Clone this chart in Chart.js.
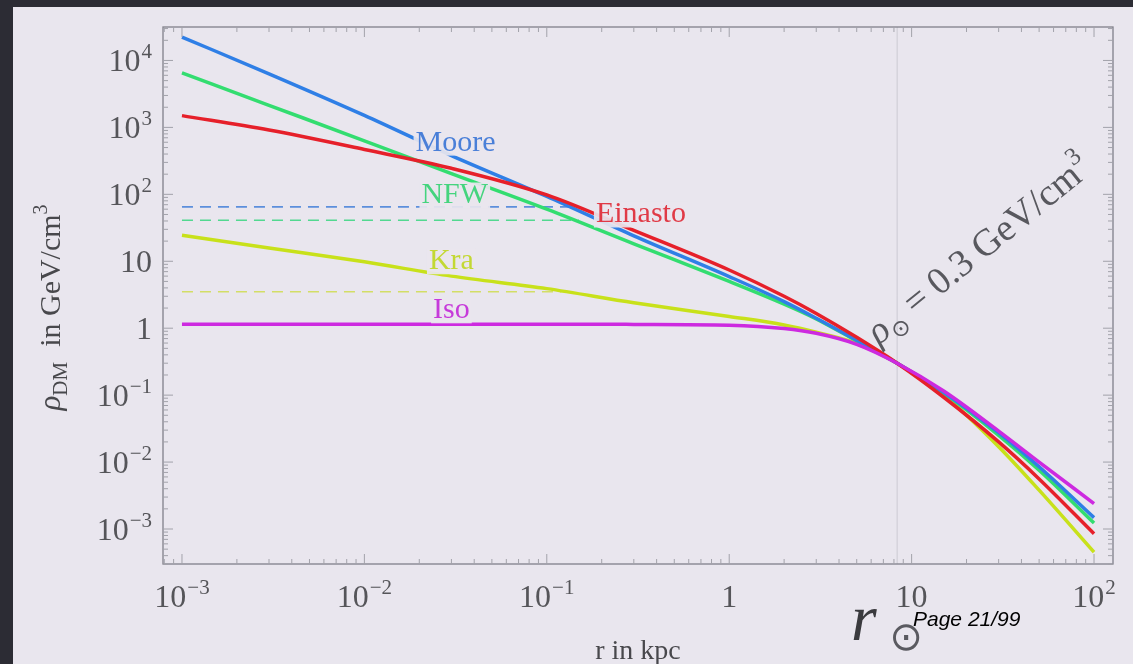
<!DOCTYPE html>
<html>
<head>
<meta charset="utf-8">
<script src="https://cdn.jsdelivr.net/npm/chart.js@4.4.1/dist/chart.umd.min.js"></script>
<style>
  html, body { margin: 0; padding: 0; background: #e9e6ee; }
  canvas { display: block; }
</style>
</head>
<body>
<canvas id="chartDensity" width="1133" height="664"></canvas>
<script>
// radius in kpc, densities in GeV/cm^3
var radius  = [0.001, 0.003, 0.01, 0.03, 0.1, 0.3, 1, 2, 3, 5, 8.33, 15, 30, 50, 100];
var moore   = [22400, 6310, 1510, 380, 93, 24, 5.9, 2.5, 1.41, 0.66, 0.3, 0.11, 0.0275, 0.0085, 0.00148];
var nfw     = [6530, 2140, 631, 204, 60, 18.2, 5.0, 2.29, 1.38, 0.645, 0.3, 0.107, 0.0251, 0.00759, 0.00123];
var einasto = [1500, 912, 468, 245, 98, 29, 7.4, 3.0, 1.66, 0.73, 0.3, 0.093, 0.020, 0.0056, 0.00085];
var kra     = [24.5, 15.8, 9.8, 6.0, 3.9, 2.4, 1.5, 1.12, 0.87, 0.59, 0.3, 0.1, 0.017, 0.0038, 0.00045];
var iso     = [1.15, 1.15, 1.15, 1.15, 1.15, 1.14, 1.11, 0.99, 0.84, 0.575, 0.3, 0.115, 0.029, 0.01, 0.0024];

// flat cores (Moore, NFW, Kra) and the radius where each one meets its profile
var coreLevels = [65, 41, 3.5];
var coreEnds   = [0.135, 0.15, 0.12];

var rSun = 8.33;

var xTicks = [1e-3, 1e-2, 1e-1, 1, 10, 100];
var xTickLabels = [['10', '\u22123'], ['10', '\u22122'], ['10', '\u22121'], ['1', ''], ['10', ''], ['10', '2']];
var yTicks = [1e-3, 1e-2, 1e-1, 1, 10, 100, 1e3, 1e4];
var yTickLabels = [['10', '\u22123'], ['10', '\u22122'], ['10', '\u22121'], ['1', ''], ['10', ''], ['10', '2'], ['10', '3'], ['10', '4']];

var curveNames = ['Moore', 'NFW', 'Einasto', 'Kra', 'Iso'];
var labelR     = [0.0316, 0.0313, 0.328, 0.030, 0.030];
var labelRho   = [592, 96, 50, 10, 1.85];

var BLUE = '#2f7fe6', GREEN = '#33dd70', RED = '#e6202a', YELLOW = '#c8e11a', MAGENTA = '#cd2ae0';
var labelColors = ['#4a7fd8', '#45d47e', '#e03a46', '#c3d834', '#c63ada'];
var PAGE = '#e9e6ee';
var SERIF = '"Liberation Serif", "DejaVu Serif", serif';

function points(values) {
    return radius.map(function (r, i) { return { x: r, y: values[i] }; });
}
function corePoints(i) {
    return [{ x: radius[0], y: coreLevels[i] }, { x: coreEnds[i], y: coreLevels[i] }];
}
function curve(values, color) {
    return {
        data: points(values), borderColor: color, borderWidth: 3.5,
        pointRadius: 0, cubicInterpolationMode: 'monotone', fill: false
    };
}
function core(i, color) {
    return {
        data: corePoints(i), borderColor: color, borderWidth: 1.6,
        borderDash: [11, 7], pointRadius: 0, fill: false
    };
}

// "10" with a raised exponent
function drawPower(ctx, base, exp, x, y, align) {
    ctx.font = '32px ' + SERIF;
    var wb = ctx.measureText(base).width;
    ctx.font = '21px ' + SERIF;
    var we = exp ? ctx.measureText(exp).width + 1 : 0;
    var left = align === 'right' ? x - wb - we : x - (wb + we) / 2;
    ctx.textAlign = 'left';
    ctx.textBaseline = 'alphabetic';
    ctx.font = '32px ' + SERIF;
    ctx.fillText(base, left, y);
    if (exp) {
        ctx.font = '21px ' + SERIF;
        ctx.fillText(exp, left + wb + 1, y - 13);
    }
}

// runs of text with their own font and vertical shift, starting at x (or centred)
function drawRuns(ctx, runs, x, y, centred) {
    var total = 0;
    runs.forEach(function (r) { ctx.font = r.font; r.w = ctx.measureText(r.t).width; total += r.w; });
    var cx = centred ? x - total / 2 : x;
    ctx.textAlign = 'left';
    ctx.textBaseline = 'alphabetic';
    runs.forEach(function (r) {
        ctx.font = r.font;
        ctx.fillText(r.t, cx, y + (r.dy || 0));
        cx += r.w;
    });
}

var framePlugin = {
    id: 'frame',
    beforeDraw: function (chart) {
        var ctx = chart.ctx, w = chart.width, h = chart.height;
        ctx.save();
        ctx.fillStyle = PAGE;
        ctx.fillRect(0, 0, w, h);
        ctx.fillStyle = '#2c2c34';
        ctx.fillRect(0, 0, 13, h);
        ctx.fillRect(0, 0, w, 7);
        ctx.restore();
    },
    beforeDatasetsDraw: function (chart) {
        var ctx = chart.ctx, a = chart.chartArea, xs = chart.scales.x;
        var px = xs.getPixelForValue(rSun);
        ctx.save();
        ctx.strokeStyle = 'rgba(150,150,160,0.35)';
        ctx.lineWidth = 1;
        ctx.beginPath();
        ctx.moveTo(px, a.top);
        ctx.lineTo(px, a.bottom);
        ctx.stroke();
        ctx.restore();
    },
    afterDatasetsDraw: function (chart) {
        var ctx = chart.ctx, a = chart.chartArea;
        var xs = chart.scales.x, ys = chart.scales.y;
        ctx.save();

        // frame
        ctx.strokeStyle = '#80808a';
        ctx.lineWidth = 1.3;
        ctx.strokeRect(a.left, a.top, a.right - a.left, a.bottom - a.top);

        // ticks on all four sides, pointing inwards
        ctx.strokeStyle = '#a2a2aa';
        ctx.lineWidth = 1;
        ctx.beginPath();
        for (var d = -4; d <= 2; d++) {
            for (var m = 1; m <= 9; m++) {
                var v = m * Math.pow(10, d);
                if (v < xs.min || v > xs.max) continue;
                var px = xs.getPixelForValue(v), len = m === 1 ? 10 : 5;
                ctx.moveTo(px, a.bottom); ctx.lineTo(px, a.bottom - len);
                ctx.moveTo(px, a.top); ctx.lineTo(px, a.top + len);
            }
        }
        for (var e = -4; e <= 4; e++) {
            for (var k = 1; k <= 9; k++) {
                var val = k * Math.pow(10, e);
                if (val < ys.min || val > ys.max) continue;
                var py = ys.getPixelForValue(val), ln = k === 1 ? 10 : 5;
                ctx.moveTo(a.left, py); ctx.lineTo(a.left + ln, py);
                ctx.moveTo(a.right, py); ctx.lineTo(a.right - ln, py);
            }
        }
        ctx.stroke();

        // tick labels
        ctx.fillStyle = '#555559';
        xTicks.forEach(function (v, i) {
            drawPower(ctx, xTickLabels[i][0], xTickLabels[i][1], xs.getPixelForValue(v), a.bottom + 43, 'center');
        });
        yTicks.forEach(function (v, i) {
            drawPower(ctx, yTickLabels[i][0], yTickLabels[i][1], 152, ys.getPixelForValue(v) + 11, 'right');
        });

        // axis titles
        ctx.fillStyle = '#48484c';
        drawRuns(ctx, [{ t: 'r in kpc', font: '28px ' + SERIF }], (a.left + a.right) / 2, 659, true);
        ctx.save();
        ctx.translate(60, (a.top + a.bottom) / 2 + 12);
        ctx.rotate(-Math.PI / 2);
        drawRuns(ctx, [
            { t: '\u03c1', font: 'italic 31px ' + SERIF },
            { t: 'DM', font: '21px ' + SERIF, dy: 7 },
            { t: '  in GeV/cm', font: '30px ' + SERIF },
            { t: '3', font: '20px ' + SERIF, dy: -13 }
        ], 0, 0, true);
        ctx.restore();

        // curve names on a page-coloured patch
        curveNames.forEach(function (name, i) {
            var x = xs.getPixelForValue(labelR[i]), y = ys.getPixelForValue(labelRho[i]);
            ctx.font = '30px ' + SERIF;
            var w = ctx.measureText(name).width;
            ctx.fillStyle = 'rgba(233,230,238,0.92)';
            ctx.fillRect(x - w / 2 - 2, y - 13, w + 4, 26);
            ctx.fillStyle = labelColors[i];
            ctx.textAlign = 'center';
            ctx.textBaseline = 'middle';
            ctx.fillText(name, x, y);
        });

        // local density annotation along the crossing point
        ctx.save();
        ctx.fillStyle = '#58585e';
        ctx.translate(xs.getPixelForValue(6.6), ys.getPixelForValue(0.55));
        ctx.rotate(-39 * Math.PI / 180);
        drawRuns(ctx, [
            { t: '\u03c1', font: 'italic 38px ' + SERIF },
            { t: '\u2299', font: '23px "DejaVu Sans", sans-serif', dy: 8 },
            { t: ' = 0.3 GeV/cm', font: '38px ' + SERIF },
            { t: '3', font: '25px ' + SERIF, dy: -17 }
        ], 0, 0, false);
        ctx.restore();

        // solar radius marker below the axis
        ctx.fillStyle = '#3a3a3e';
        ctx.textAlign = 'left';
        ctx.textBaseline = 'alphabetic';
        ctx.font = 'italic 66px ' + SERIF;
        ctx.fillText('r', 851, 640);
        ctx.fillStyle = '#5a5a60';
        ctx.font = '40px "DejaVu Sans", sans-serif';
        ctx.textAlign = 'center';
        ctx.textBaseline = 'middle';
        ctx.fillText('\u2299', 906, 640);

        // page counter
        ctx.fillStyle = '#000';
        ctx.textAlign = 'left';
        ctx.textBaseline = 'alphabetic';
        ctx.font = 'italic 21px "Liberation Sans", Arial, sans-serif';
        ctx.fillText('Page 21/99', 913, 626);

        ctx.restore();
    }
};

new Chart(document.getElementById('chartDensity'), {
    type: 'line',
    data: {
        datasets: [
            curve(iso, MAGENTA),
            curve(einasto, RED),
            curve(moore, BLUE),
            curve(nfw, GREEN),
            curve(kra, YELLOW),
            core(0, '#5c8fdc'),
            core(1, '#52d890'),
            core(2, '#d3de66')
        ]
    },
    options: {
        responsive: false,
        animation: false,
        devicePixelRatio: 1,
        layout: { padding: { top: 27, right: 20, bottom: 0, left: 0 } },
        plugins: { legend: { display: false }, tooltip: { enabled: false } },
        scales: {
            x: {
                type: 'logarithmic',
                min: Math.pow(10, -3.104),
                max: Math.pow(10, 2.104),
                ticks: { display: false },
                grid: { display: false },
                border: { display: false },
                afterFit: function (s) { s.height = 100; }
            },
            y: {
                type: 'logarithmic',
                min: Math.pow(10, -3.5),
                max: Math.pow(10, 4.5),
                ticks: { display: false },
                grid: { display: false },
                border: { display: false },
                afterFit: function (s) { s.width = 163; }
            }
        }
    },
    plugins: [framePlugin]
});
</script>
</body>
</html>
